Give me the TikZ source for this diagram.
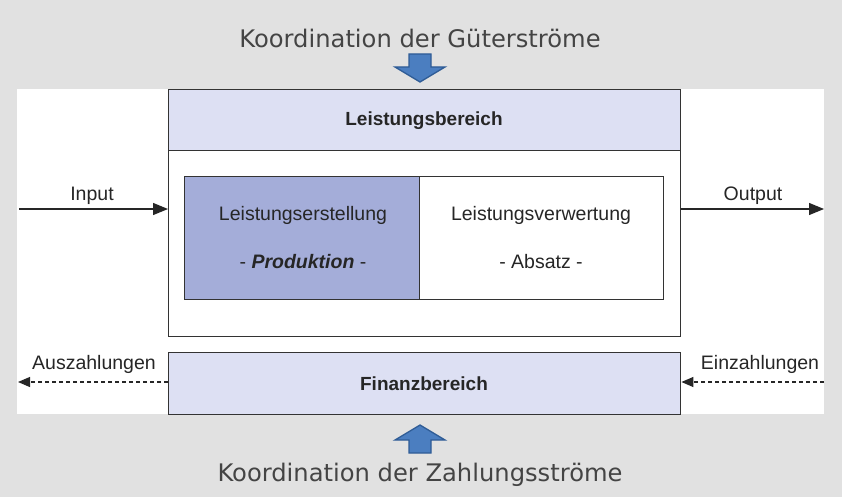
\documentclass[tikz,border=0pt]{standalone}
\usepackage{fontspec}
\setmainfont{Liberation Sans}
\newfontfamily\titlefont{DejaVu Sans}
\usetikzlibrary{arrows.meta}
\definecolor{bggrey}{HTML}{E1E1E1}
\definecolor{lav}{HTML}{DDE0F3}
\definecolor{lavdark}{HTML}{A4ADD9}
\definecolor{linegrey}{HTML}{333333}
\definecolor{arrowfill}{HTML}{4B7EC0}
\definecolor{arrowline}{HTML}{2F5C96}
\definecolor{titlegrey}{HTML}{444444}
\tikzset{
  box/.style={draw=linegrey, line width=1.4pt, rectangle, inner sep=0pt, anchor=north west},
  lbl/.style={font=\fontsize{19.5}{23}\selectfont, text=black!85, inner sep=0pt},
  lblb/.style={font=\fontsize{19}{23}\selectfont\bfseries, text=black!85, inner sep=0pt},
  ttl/.style={font=\titlefont\fontsize{24.2}{29}\selectfont, text=titlegrey, inner sep=0pt, anchor=base},
  flow/.style={draw=black!85, line width=1.2pt, -{Triangle[length=15pt,width=12pt]}},
  dflow/.style={draw=black!85, line width=1.1pt, dashed, dash pattern=on 4pt off 3pt, -{Triangle[length=12pt,width=10pt]}},
  blockarrow/.style={fill=arrowfill, draw=arrowline, line width=1.3pt, line join=miter},
}
\begin{document}
\begin{tikzpicture}[x=1pt,y=-1pt]
\fill[bggrey] (0,0) rectangle (842,497);
\useasboundingbox (0,0) rectangle (842,497);
\fill[white] (17,89) rectangle (824,414);

% Leistungsbereich
\node[box, fill=white, minimum width=512pt, minimum height=247pt] (lb) at (168,89) {};
\node[box, fill=lav, minimum width=512pt, minimum height=61pt] (lbh) at (168,89) {};
\node[lblb] (lbt) at (424,121) {Leistungsbereich};

\node[box, fill=lavdark, minimum width=235pt, minimum height=123pt] (le) at (184,176) {};
\node[box, fill=white, minimum width=244pt, minimum height=123pt] (lv) at (419,176) {};
\node[lbl] (let) at (303,215) {Leistungserstellung};
\node[lbl] (lep) at (303,262) {- \textbf{\textit{Produktion}} -};
\node[lbl] (lvt) at (541,215) {Leistungsverwertung};
\node[lbl] (lva) at (541,262) {- Absatz -};

% Finanzbereich
\node[box, fill=lav, minimum width=512pt, minimum height=62pt] (fb) at (168,352) {};
\node[lblb] (fbt) at (424,384) {Finanzbereich};

% Input / Output
\coordinate (inp) at (19,209);
\coordinate (outp) at (824,209);
\draw[flow] (inp) -- (lb.west |- inp);
\draw[flow] (lb.east |- outp) -- (outp);
\node[lbl] (inl) at (92,196) {Input};
\node[lbl] (outl) at (753,196) {Output};

% Zahlungen
\coordinate (ausz) at (18,382);
\coordinate (einz) at (824,382);
\draw[dflow] (fb.west |- ausz) -- (ausz);
\draw[dflow] (einz) -- (fb.east |- einz);
\node[lbl] (auszl) at (94,364) {Auszahlungen};
\node[lbl] (einzl) at (760,364) {Einzahlungen};

% Titles
\node[ttl] (tt) at (420,48) {Koordination der Güterströme};
\node[ttl] (bt) at (420,481) {Koordination der Zahlungsströme};

% Block arrows
\draw[blockarrow] (409,54) -- (431,54) -- (431,67) -- (445,67) -- (420,82) -- (395,67) -- (409,67) -- cycle;
\draw[blockarrow] (409,453) -- (431,453) -- (431,440) -- (445,440) -- (420,425) -- (395,440) -- (409,440) -- cycle;
\end{tikzpicture}
\end{document}
